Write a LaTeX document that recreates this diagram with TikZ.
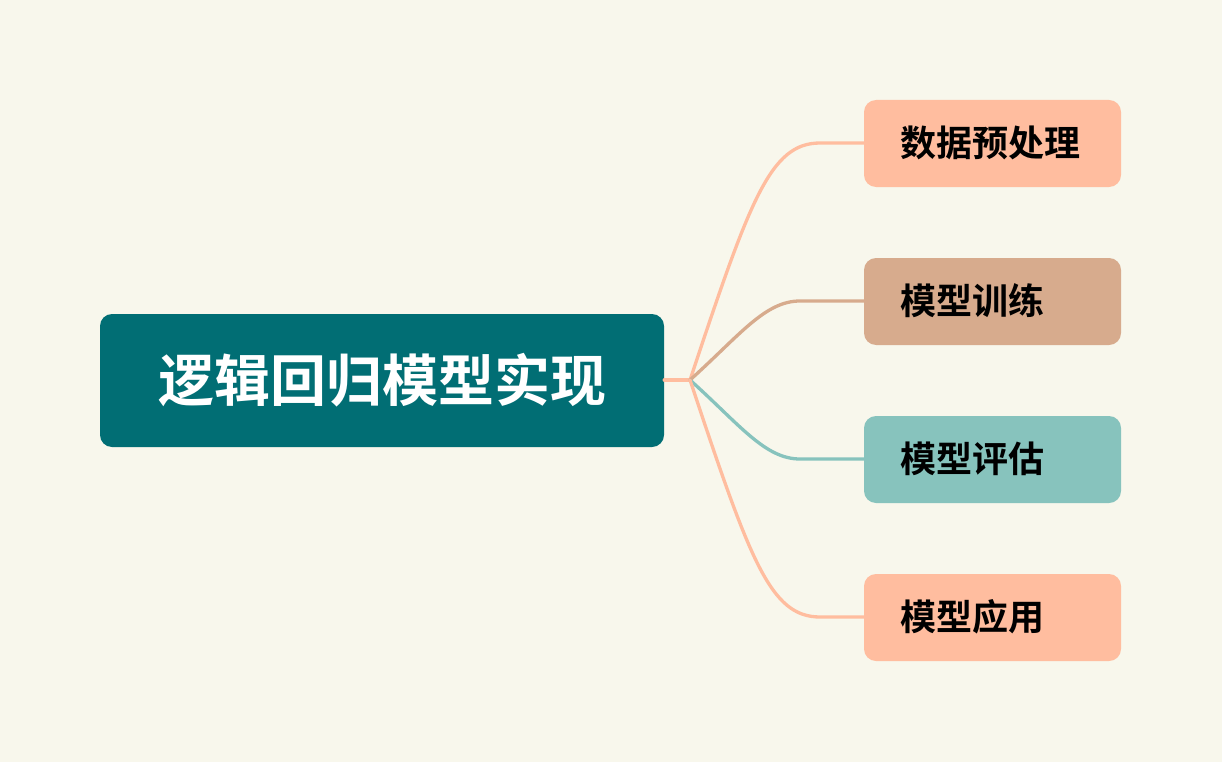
\documentclass[tikz,border=0pt]{standalone}
\usepackage{fontspec}
\newfontfamily\cjk{Noto Sans CJK SC}[BoldFont={* Bold}]
\definecolor{bgc}{HTML}{F8F7EC}
\definecolor{rootc}{HTML}{016E74}
\definecolor{salmon}{HTML}{FFBD9F}
\definecolor{tan}{HTML}{D7AB8D}
\definecolor{mint}{HTML}{87C3BD}
\tikzset{
  box/.style={rounded corners=12pt, minimum width=257pt, minimum height=87pt, inner sep=0pt},
  lbl/.style={anchor=west, font=\cjk\bfseries\fontsize{36}{42}\selectfont, text=black, inner sep=0pt},
  link/.style={line width=3.3pt, line cap=round},
}
\begin{document}
\begin{tikzpicture}[x=1pt,y=-1pt]
\fill[bgc] (0,0) rectangle (1222,762);
\useasboundingbox (0,0) rectangle (1222,762);
\node[fill=rootc, rounded corners=12pt, minimum width=564pt, minimum height=133pt, inner sep=0pt] (root) at (382,380.5) {};
\node[font=\cjk\bfseries\fontsize{56}{62}\selectfont, text=white] (roottext) at (382,380) {逻辑回归模型实现};
\coordinate (hub) at (690,380);
\node[box, fill=salmon] (c1) at (992.5,143.5) {};
\node[box, fill=tan] (c2) at (992.5,301.5) {};
\node[box, fill=mint] (c3) at (992.5,459.5) {};
\node[box, fill=salmon] (c4) at (992.5,617.5) {};
\node[lbl] (t1) at (900,143) {数据预处理};
\node[lbl] (t2) at (900,301) {模型训练};
\node[lbl] (t3) at (900,459) {模型评估};
\node[lbl] (t4) at (900,617) {模型应用};
\draw[link, salmon] (root.east |- hub) -- (hub);
\draw[link, salmon] (hub) .. controls (750,200) and (770,143) .. (820,143) -- (c1.west |- 820,143);
\draw[link, tan] (hub) .. controls (740,335) and (765,301) .. (800,301) -- (c2.west |- 800,301);
\draw[link, mint] (hub) .. controls (740,425) and (765,459) .. (800,459) -- (c3.west |- 800,459);
\draw[link, salmon] (hub) .. controls (750,560) and (770,617) .. (820,617) -- (c4.west |- 820,617);
\end{tikzpicture}
\end{document}
